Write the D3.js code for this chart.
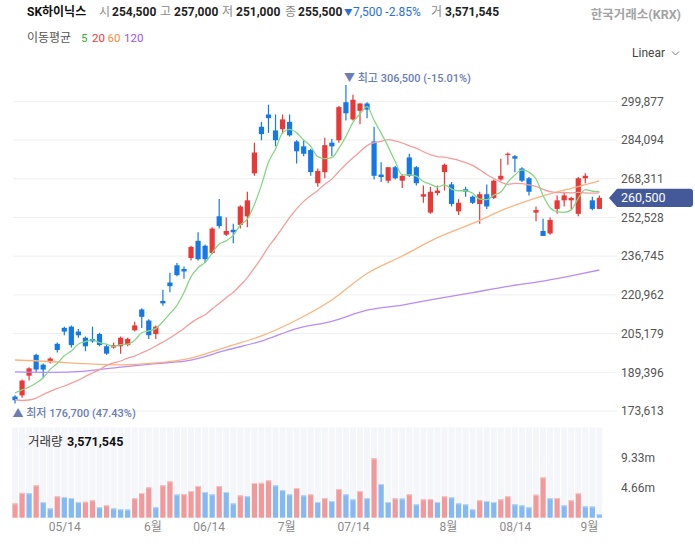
<!DOCTYPE html>
<html><head><meta charset="utf-8">
<script src="https://cdn.jsdelivr.net/npm/d3@7"></script>
<style>
body{margin:0;background:#fff;}
svg{display:block;font-family:Roboto,'Noto Sans CJK KR','Noto Sans',sans-serif;}
</style></head><body>
<svg id="chart" width="695" height="547"></svg>
<script>
// ---------------- DATA ----------------
const dates = ["2025-04-30",
"2025-05-02","2025-05-07","2025-05-08","2025-05-09","2025-05-12","2025-05-13","2025-05-14","2025-05-15","2025-05-16","2025-05-19",
"2025-05-20","2025-05-21","2025-05-22","2025-05-23","2025-05-26","2025-05-27","2025-05-28","2025-05-29","2025-05-30",
"2025-06-02","2025-06-04","2025-06-05","2025-06-09","2025-06-10","2025-06-11","2025-06-12","2025-06-13","2025-06-16","2025-06-17",
"2025-06-18","2025-06-19","2025-06-20","2025-06-23","2025-06-24","2025-06-25","2025-06-26","2025-06-27","2025-06-30",
"2025-07-01","2025-07-02","2025-07-03","2025-07-04","2025-07-07","2025-07-08","2025-07-09","2025-07-10","2025-07-11","2025-07-14",
"2025-07-15","2025-07-16","2025-07-17","2025-07-18","2025-07-21","2025-07-22","2025-07-23","2025-07-24","2025-07-25","2025-07-28",
"2025-07-29","2025-07-30","2025-07-31",
"2025-08-01","2025-08-04","2025-08-05","2025-08-06","2025-08-07","2025-08-08","2025-08-11","2025-08-12","2025-08-13","2025-08-14",
"2025-08-18","2025-08-19","2025-08-20","2025-08-21","2025-08-22","2025-08-25","2025-08-26","2025-08-27","2025-08-28","2025-08-29",
"2025-09-01","2025-09-02"];

const open = [179500,180000,188000,196500,192500,193500,201000,207500,208000,206000,
203500,203000,205000,200000,199500,200000,200500,206500,215000,210500,
205000,218500,226000,233000,231500,236000,243000,241000,238000,253000,
245500,247500,249500,253000,270500,289500,294500,288000,288500,291500,
283500,281500,280000,266500,271000,283000,284000,299500,292500,296000,
299000,283500,270000,267500,273000,267500,277000,273000,261000,254500,
262500,271000,266000,255000,264000,261000,258000,262000,260500,268000,
278000,277500,272500,268500,254500,247000,246000,256000,259500,259500,
254000,268500,259500,256000];

const high = [180000,186500,191500,197000,193000,195500,201500,208000,208500,207000,
204000,208000,205500,201000,201500,204000,203500,210000,215500,211000,
208500,223000,230000,234000,232500,241000,246500,241500,248500,260000,
252500,250000,257500,263000,283000,291500,298500,294500,294500,294500,
284000,284000,280500,272500,285000,284500,298000,306500,302500,299000,
299500,289500,275000,273000,273500,270000,278500,273500,265500,265000,
265500,274500,267000,260000,265000,261500,263000,266000,268000,276500,
279000,278000,273000,269000,257000,252000,252500,261500,263000,261000,
269000,270500,261000,261500];

const low = [176700,179000,186000,189500,187000,193000,197500,204500,199500,203500,
198000,201500,200000,196500,199000,197000,200000,206000,207500,203000,
203000,216500,222000,228500,227500,235000,235000,234000,237500,248000,
245000,242000,248000,248500,269500,284000,287000,281500,286500,285500,
274500,277500,269500,265000,268500,277500,283000,292000,292000,290500,
293000,268000,267000,266500,268000,264500,269000,265500,258500,254000,
261500,263500,257000,253500,261000,258000,250000,256000,260000,267500,
274000,271000,267000,261500,251000,245000,245500,254000,257000,256000,
253000,266500,255500,256000];

const close = [178000,186000,191000,190500,190500,195000,198500,206000,200500,204500,
200000,202000,200500,197000,200500,203500,203000,208500,212000,204500,
208000,217500,224500,229000,230500,240500,235500,235500,248000,249000,
247000,246500,257000,259500,279000,286500,293000,284000,292500,286000,
279500,278500,271000,271500,282000,281500,297500,295000,300500,299000,
296500,269500,269000,273000,268500,269500,269500,266500,262000,263000,
263500,274000,258000,258500,263000,258500,262000,257000,267500,269500,
278500,276500,267500,263000,255500,245000,251500,259500,261500,260500,
268500,269500,256000,260500];

const volume = [2230000,3860000,3800000,5030000,2440000,1450000,3320000,3210000,3060000,2420000,
2480000,2700000,1610000,1920000,1450000,1310000,1270000,3010000,3840000,4720000,
1610000,5030000,5650000,3600000,3660000,4150000,4920000,3990000,3630000,4920000,
3990000,2230000,3470000,3320000,5390000,5420000,5810000,5030000,4300000,3630000,
4610000,3470000,3630000,2440000,3060000,2590000,4460000,3630000,2850000,4150000,
3010000,9230000,5240000,2440000,3010000,2980000,3630000,2070000,2850000,2880000,
2440000,3320000,3160000,2230000,2070000,1300000,2700000,2590000,2440000,2850000,
3320000,2070000,1920000,1610000,3571545,6270000,3010000,3050000,1920000,2700000,
3780000,1760000,1740000,520000];

// moving-average values before enough history is on screen
const ma5Lead = [181000,182200,183400,185000];
const ma20Lead = [178300,177900,178100,178900,180300,181600,182800,183800,185000,186200,
187700,189100,190500,192200,193200,194000,195200,196000,197300];
// 60 / 120 day averages: [candle index, value]
const ma60Points = [[0,194400],[5,193800],[10,192900],[15,192400],[20,193200],[25,195200],[30,199700],
[35,204200],[40,210700],[45,218900],[50,229700],[55,236800],[60,244300],[65,250100],[70,256400],
[75,261300],[80,265100],[83,267400]];
const ma120Points = [[0,189600],[5,189400],[10,189900],[15,191500],[20,192900],[25,194400],[30,198400],
[35,202100],[40,207200],[45,210200],[50,214700],[55,216800],[60,219400],[65,221900],[70,224400],
[75,226600],[80,229300],[83,231100]];

const priceTicks = [299877,284094,268311,252528,236745,220962,205179,189396,173613];
const volumeTicks = [4.66e6, 9.33e6];
const xTickDefs = [["2025-05-14","05/14"],["2025-06-01","6월"],["2025-06-14","06/14"],["2025-07-01","7월"],
["2025-07-14","07/14"],["2025-08-01","8월"],["2025-08-14","08/14"],["2025-09-01","9월"]];
const hoverIndex = 74;
const stockName = "SK하이닉스";
const exchangeName = "한국거래소(KRX)";
const maLabels = [["5","#2fb52f"],["20","#f03c3c"],["60","#ff8a3d"],["120","#9d52f5"]];

// ---------------- CHART ----------------
const svg = d3.select('#chart');
const n = dates.length;
const RED = '#ec3737', BLUE = '#1479e6';
const x = d3.scaleBand().domain(d3.range(n)).range([11.5, 602.9]);
const step = x.step();
const cx = i => x(i) + step / 2;
const xf = d3.scaleLinear().domain([0, n - 1]).range([cx(0), cx(n - 1)]);
const y = d3.scaleLinear().domain([173613, 299877]).range([411, 101.3]);
const yv = d3.scaleLinear().domain([0, 9.33e6]).range([517.7, 457.7]);
const fmt = d3.format(',');

// grid
svg.append('g').selectAll('line').data(priceTicks).join('line')
  .attr('x1', 13).attr('x2', 617).attr('y1', d => y(d)).attr('y2', d => y(d))
  .attr('stroke', '#eeeeee').attr('stroke-width', 1);

// price axis
const ay = svg.append('g').attr('transform', 'translate(621,0)')
  .call(d3.axisRight(y).tickValues(priceTicks).tickFormat(fmt).tickSize(0).tickPadding(0));
ay.select('.domain').remove();
ay.selectAll('text').attr('fill', '#555').attr('font-size', 12).attr('font-family', "Roboto,'Noto Sans CJK KR',sans-serif");

// volume background stripes
svg.append('g').selectAll('rect').data(d3.range(n)).join('rect')
  .attr('x', i => x(i) + 0.5).attr('width', step - 1)
  .attr('y', 427.5).attr('height', 517.7 - 427.5).attr('fill', '#f5f6fa');

// volume bars
const vUp = i => i === 0 || volume[i] > volume[i - 1];
const vb = svg.append('g');
vb.selectAll('rect.v').data(d3.range(n)).join('rect').attr('class', 'v')
  .attr('x', i => cx(i) - 2.6).attr('width', 5.2)
  .attr('y', i => yv(volume[i])).attr('height', i => yv(0) - yv(volume[i]))
  .attr('fill', i => vUp(i) ? '#f29a9b' : '#84b9f4');
vb.selectAll('rect.t').data(d3.range(n)).join('rect').attr('class', 't')
  .attr('x', i => cx(i) - 2.6).attr('width', 5.2)
  .attr('y', i => yv(volume[i])).attr('height', 1)
  .attr('fill', i => vUp(i) ? '#f7c4c4' : '#b8d7f9');

// volume axis
const av = svg.append('g').attr('transform', 'translate(621,0)')
  .call(d3.axisRight(yv).tickValues(volumeTicks).tickFormat(d => (d / 1e6).toFixed(2) + 'm').tickSize(0).tickPadding(0));
av.select('.domain').remove();
av.selectAll('text').attr('fill', '#555').attr('font-size', 12).attr('font-family', "Roboto,'Noto Sans CJK KR',sans-serif");

// x axis
const xPos = xTickDefs.map(([d]) => {
  const k = dates.findIndex(v => v >= d);
  if (d.endsWith('-01')) return k - 0.5;
  return dates[k] === d ? k : k - 0.5;
});
const ax = svg.append('g').attr('transform', 'translate(0,522)')
  .call(d3.axisBottom(xf).tickValues(xPos).tickFormat((d, i) => xTickDefs[i][1]).tickSize(0).tickPadding(0));
ax.select('.domain').remove();
ax.selectAll('text').attr('fill', '#8a8a8a').attr('font-size', 12).attr('dy', '0.71em')
  .attr('font-family', "Roboto,'Noto Sans CJK KR',sans-serif");

// candles
const cg = svg.append('g');
const isUp = i => close[i] >= open[i];
cg.selectAll('line').data(d3.range(n)).join('line')
  .attr('x1', cx).attr('x2', cx)
  .attr('y1', i => y(high[i])).attr('y2', i => y(low[i]))
  .attr('stroke', i => isUp(i) ? RED : BLUE).attr('stroke-width', 1.2);
cg.selectAll('rect').data(d3.range(n)).join('rect')
  .attr('x', i => cx(i) - 2.6).attr('width', 5.2)
  .attr('y', i => y(Math.max(open[i], close[i])))
  .attr('height', i => Math.max(1.2, Math.abs(y(open[i]) - y(close[i]))))
  .attr('fill', i => isUp(i) ? RED : BLUE);

// moving averages
function rolling(len, lead) {
  return d3.range(n).map(i => i < len - 1 ? [i, lead[i]] : [i, d3.mean(close.slice(i - len + 1, i + 1))]);
}
const ma5 = rolling(5, ma5Lead);
const ma20 = rolling(20, ma20Lead);
const line = d3.line().x(d => xf(d[0])).y(d => y(d[1])).curve(d3.curveMonotoneX);
const lg = svg.append('g').attr('fill', 'none').attr('stroke-width', 1.3);
lg.append('path').attr('d', line(ma120Points)).attr('stroke', '#b98cf6');
lg.append('path').attr('d', line(ma60Points)).attr('stroke', '#fbb47e');
lg.append('path').attr('d', line(ma20)).attr('stroke', '#f79c9c');
lg.append('path').attr('d', line(ma5)).attr('stroke', '#86d784');

// high / low annotation
const last = close[n - 1];
const hi = d3.max(high), lo = d3.min(low);
const hiI = high.indexOf(hi), loI = low.indexOf(lo);
const pct = v => ((last - v) / v * 100).toFixed(2);
svg.append('text').attr('x', cx(hiI) - 2).attr('y', y(hi) - 7).attr('dominant-baseline', 'central')
  .attr('font-size', 11).attr('fill', '#6a7db5').attr('font-weight', 500)
  .text(`▼ 최고 ${fmt(hi)} (${pct(hi)}%)`);
svg.append('text').attr('x', cx(loI) - 2.5).attr('y', y(lo) + 10).attr('dominant-baseline', 'central')
  .attr('font-size', 11).attr('fill', '#6a7db5').attr('font-weight', 500)
  .text(`▲ 최저 ${fmt(lo)} (${pct(lo)}%)`);

// last price tag
const ty = y(last);
svg.append('path')
  .attr('d', `M609,${ty} L617,${ty - 9.2} L690,${ty - 9.2} Q693,${ty - 9.2} 693,${ty - 6.2} L693,${ty + 6.2} Q693,${ty + 9.2} 690,${ty + 9.2} L617,${ty + 9.2} Z`)
  .attr('fill', '#44599a');
svg.append('text').attr('x', 621).attr('y', ty).attr('dominant-baseline', 'central')
  .attr('font-size', 12.5).attr('fill', '#fff').text(fmt(last));

// header
const h = hoverIndex;
const chg = close[h] - close[h - 1];
const chgPct = (chg / close[h - 1] * 100).toFixed(2);
const head = svg.append('g').attr('font-size', 12);
function t(xp, yp, s, col, bold) {
  return head.append('text').attr('x', xp).attr('y', yp).attr('dominant-baseline', 'central')
    .attr('fill', col).attr('font-weight', bold ? 'bold' : 'normal').text(s);
}
t(27, 12, stockName, '#111', true);
t(99, 12, '시', '#8a8a8a'); t(112, 12, fmt(open[h]), '#222', true);
t(160, 12, '고', '#8a8a8a'); t(174, 12, fmt(high[h]), '#222', true);
t(222, 12, '저', '#8a8a8a'); t(236, 12, fmt(low[h]), '#222', true);
t(285, 12, '종', '#8a8a8a'); t(298, 12, fmt(close[h]), '#222', true);
t(344, 12, (chg < 0 ? '▼' : '▲'), chg < 0 ? '#2a6fdc' : RED).attr('font-size', 8.5);
t(353, 12, `${fmt(Math.abs(chg))} ${chgPct}%`, chg < 0 ? '#2a6fdc' : RED);
t(431, 12, '거', '#8a8a8a'); t(445, 12, fmt(volume[h]), '#222', true);

t(27, 38, '이동평균', '#555').attr('font-size', 12);
const lgX = [81, 92, 107.5, 124];
maLabels.forEach(([s, c], i) => {
  t(lgX[i], 38, s, c).attr('font-size', 11.5);
});

t(681, 14, exchangeName, '#a3a3a3', true).attr('text-anchor', 'end').attr('font-size', 12.5);
t(665, 53, 'Linear', '#444').attr('text-anchor', 'end').attr('font-size', 12);
svg.append('path').attr('d', 'M672,51.5 L675.5,55 L679,51.5').attr('fill', 'none').attr('stroke', '#777').attr('stroke-width', 1);

// volume label
t(28, 441.7, '거래량', '#333').attr('font-size', 12.5);
t(67, 441.7, fmt(volume[h]), '#111', true).attr('font-size', 12.5);
</script>
</body></html>
